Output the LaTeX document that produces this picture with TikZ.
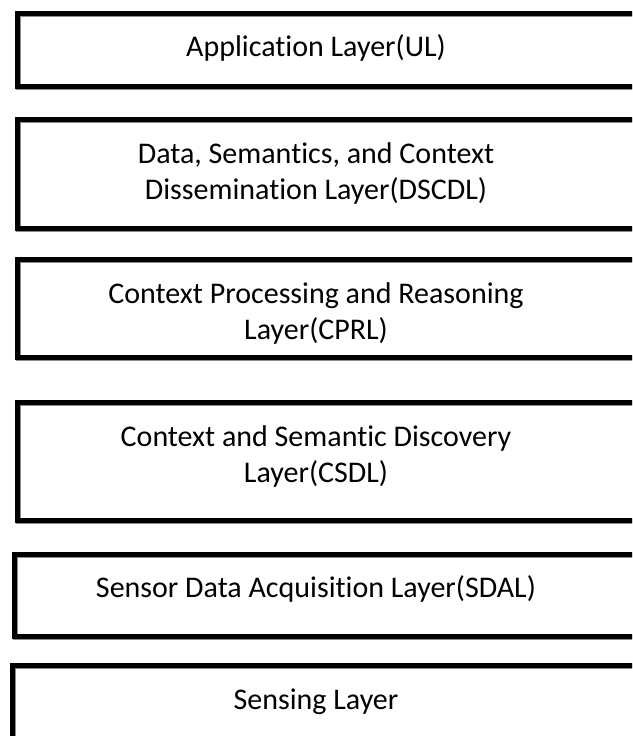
\documentclass[tikz,border=0pt]{standalone}
\usepackage{fontspec}
\setmainfont{Carlito}[Ligatures={NoCommon}]
\begin{document}
\begin{tikzpicture}[x=1pt,y=-1pt,
  layerbox/.style={draw=black,line width=5pt},
  shadowbox/.style={draw=black!45,line width=5pt},
  lbl/.style={font=\fontsize{30}{36.5}\selectfont,align=center,inner sep=0pt,anchor=north}]
\useasboundingbox (0,0) rectangle (632,736);
\clip (0,0) rectangle (632,736);
\foreach \l/\t/\b in {17.5/13/86.5, 17.5/119.5/228, 17.5/259.5/357, 17.5/402.5/520.5, 14.5/554/636, 12.5/665.5/745}{
  \draw[shadowbox] (\l+1.2,\t+1.2) rectangle (660,\b+1.2);
  \draw[layerbox] (\l,\t) rectangle (660,\b);
}
\node[lbl] (ul) at (316,31) {\strut Application Layer(UL)};
\node[lbl] (dscdl) at (316,137.5) {\strut Data, Semantics, and Context\\Dissemination Layer(DSCDL)};
\node[lbl] (cprl) at (316,277.5) {\strut Context Processing and Reasoning\\Layer(CPRL)};
\node[lbl] (csdl) at (316,420.5) {\strut Context and Semantic Discovery\\Layer(CSDL)};
\node[lbl] (sdal) at (316,572) {\strut Sensor Data Acquisition Layer(SDAL)};
\node[lbl] (sl) at (316,683.5) {\strut Sensing Layer};
\end{tikzpicture}
\end{document}
